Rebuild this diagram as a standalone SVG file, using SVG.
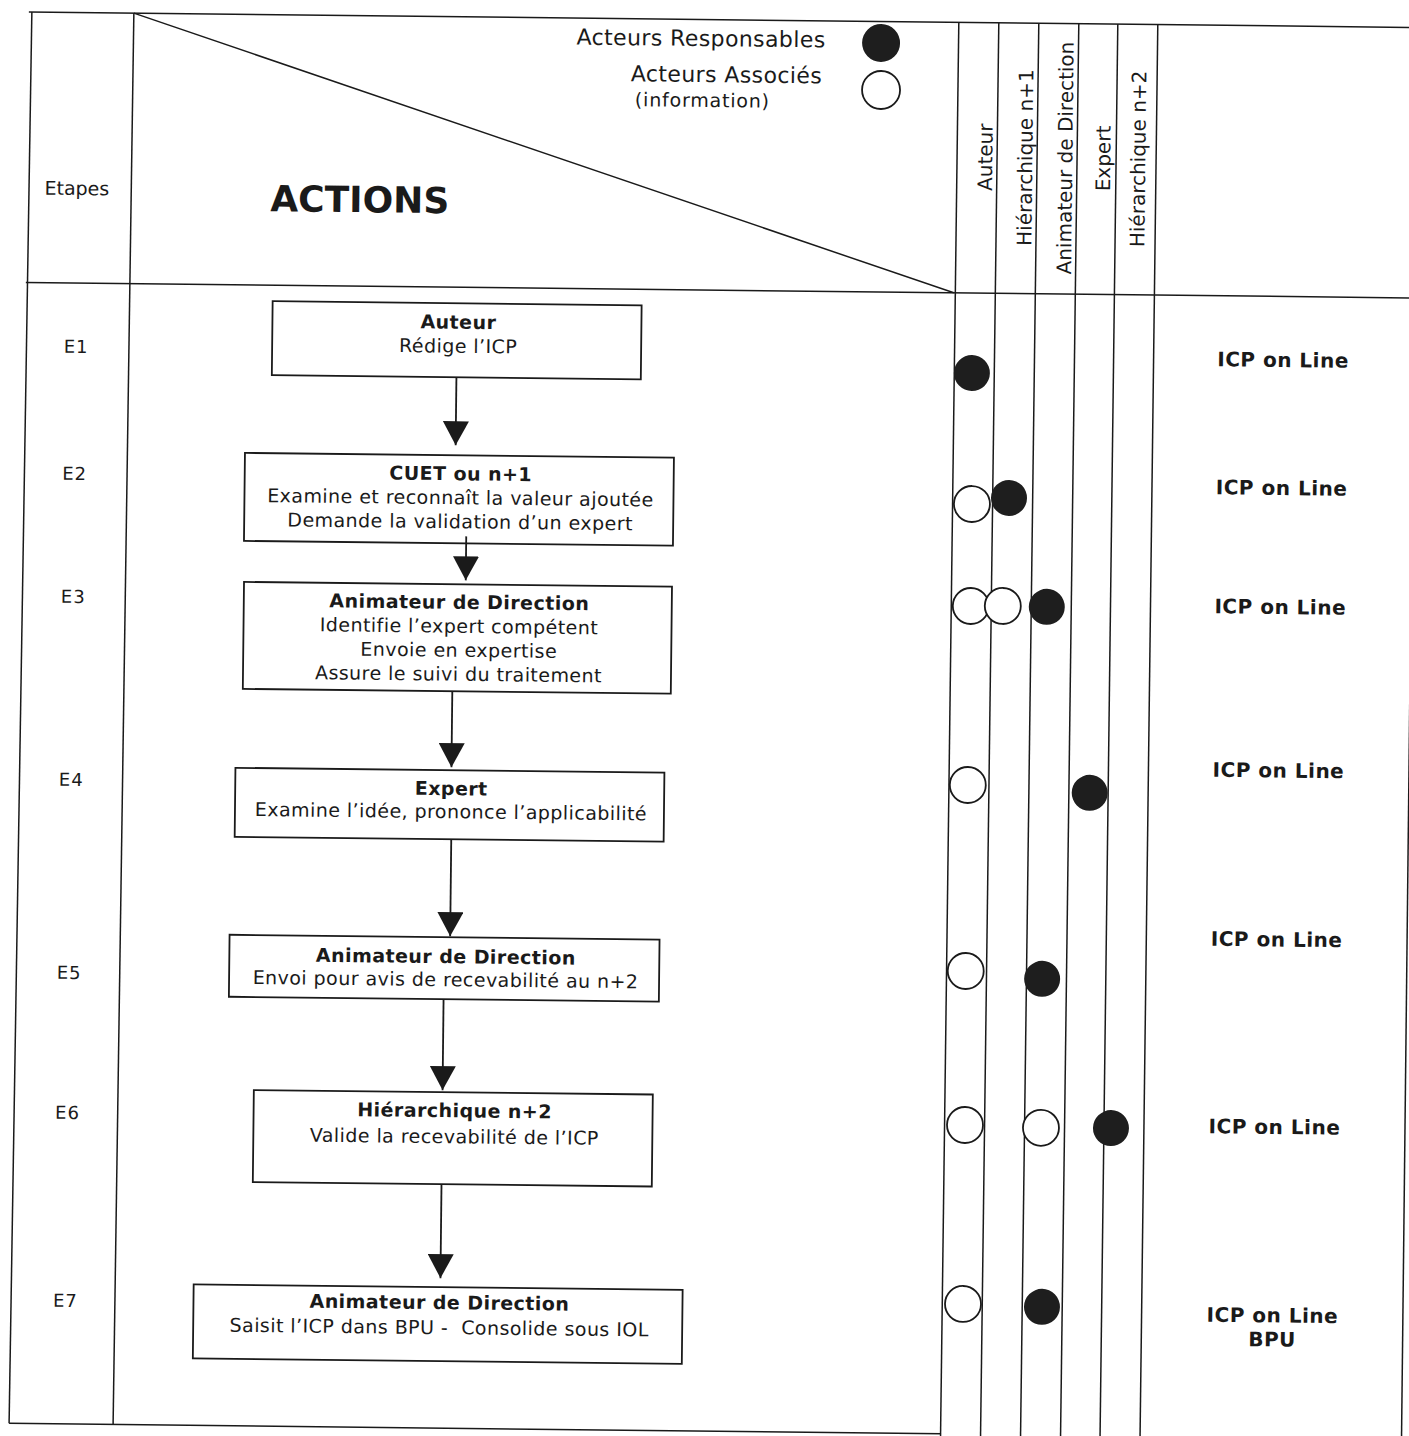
<svg xmlns="http://www.w3.org/2000/svg" width="1409" height="1436" viewBox="0 0 1409 1436">
<style>
.ln{stroke:#1a1a1a;stroke-width:1.5;fill:none}
.box{fill:#fff;stroke:#1a1a1a;stroke-width:1.8}
.t{font-family:"DejaVu Sans",Verdana,sans-serif;font-size:20px;fill:#1a1a1a;text-anchor:middle}
.bx{font-size:19px;letter-spacing:0.45px}
.b{font-weight:bold}
.resp{fill:#1e1e1e}
.assoc{fill:#fff;stroke:#1a1a1a;stroke-width:1.8}
.cn{stroke:#1a1a1a;stroke-width:1.8;fill:none;marker-end:url(#ah)}
</style>
<defs>
<marker id="ah" viewBox="0 0 24 26" refX="24" refY="13" markerWidth="24" markerHeight="26" markerUnits="userSpaceOnUse" orient="auto">
<path d="M0,0 L24,13 L0,26 z" fill="#1a1a1a"/>
</marker>
</defs>
<rect width="1409" height="1436" fill="#fff"/>
<g transform="rotate(0.64 700 720)">
<g id="grid">
<line class="ln" x1="21" y1="19.5" x2="1425" y2="19.5"/>
<line class="ln" x1="21" y1="290" x2="1425" y2="290"/>
<line class="ln" x1="17" y1="1431" x2="949" y2="1431"/>
<line class="ln" x1="24" y1="19.5" x2="17" y2="1431"/>
<line class="ln" x1="126" y1="19.5" x2="121" y2="1431"/>
<line class="ln" x1="126" y1="19.5" x2="949" y2="290"/>
<line class="ln" x1="951" y1="19.5" x2="948.5" y2="1450"/>
<line class="ln" x1="991" y1="19.5" x2="988.5" y2="1450"/>
<line class="ln" x1="1031" y1="19.5" x2="1028.5" y2="1450"/>
<line class="ln" x1="1071" y1="19.5" x2="1068.5" y2="1450"/>
<line class="ln" x1="1110" y1="19.5" x2="1108" y2="1450"/>
<line class="ln" x1="1150" y1="19.5" x2="1148" y2="1450"/>
<line class="ln" x1="1409.5" y1="290" x2="1409.5" y2="1450"/>
</g>
<g id="header">
<text class="t" x="71" y="202" style="font-size:19px">Etapes</text>
<text class="t b" x="354" y="216" style="font-size:36px">ACTIONS</text>
<text class="t" x="818" y="46" style="font-size:22px;letter-spacing:0.4px;text-anchor:end">Acteurs Responsables</text>
<text class="t" x="815" y="82" style="font-size:22px;letter-spacing:0.4px;text-anchor:end">Acteurs Associés</text>
<text class="t" x="628" y="107" style="font-size:19px;letter-spacing:0.8px;text-anchor:start">(information)</text>
<circle class="resp" cx="873.5" cy="41" r="19"/>
<circle class="assoc" cx="874" cy="88" r="19"/>
<text class="t" transform="translate(986,154) rotate(-90)">Auteur</text>
<text class="t" transform="translate(1026,154) rotate(-90)">Hiérarchique n+1</text>
<text class="t" transform="translate(1066,154) rotate(-90)">Animateur de Direction</text>
<text class="t" transform="translate(1104,154) rotate(-90)">Expert</text>
<text class="t" transform="translate(1139,154) rotate(-90)">Hiérarchique n+2</text>
</g>
<g id="steps">
<text class="t" x="72" y="360" style="font-size:18px;letter-spacing:1px">E1</text>
<text class="t" x="72" y="487" style="font-size:18px;letter-spacing:1px">E2</text>
<text class="t" x="72" y="610" style="font-size:18px;letter-spacing:1px">E3</text>
<text class="t" x="72" y="793" style="font-size:18px;letter-spacing:1px">E4</text>
<text class="t" x="72" y="986" style="font-size:18px;letter-spacing:1px">E5</text>
<text class="t" x="72" y="1126" style="font-size:18px;letter-spacing:1px">E6</text>
<text class="t" x="72" y="1314" style="font-size:18px;letter-spacing:1px">E7</text>
</g>
<g id="n1">
<rect class="box" x="268" y="306" width="369" height="74"/>
<text class="t bx b" x="454" y="331.5">Auteur</text>
<text class="t bx" x="454" y="355.5">Rédige l’ICP</text>
</g>
<g id="n2">
<rect class="box" x="242" y="458" width="429" height="88"/>
<text class="t bx b" x="458" y="483">CUET ou n+1</text>
<text class="t bx" x="458" y="507">Examine et reconnaît la valeur ajoutée</text>
<text class="t bx" x="458" y="531">Demande la validation d’un expert</text>
</g>
<g id="n3">
<rect class="box" x="242.5" y="587" width="428" height="107"/>
<text class="t bx b" x="458" y="611.5">Animateur de Direction</text>
<text class="t bx" x="458" y="635.5">Identifie l’expert compétent</text>
<text class="t bx" x="458" y="659.5">Envoie en expertise</text>
<text class="t bx" x="458" y="683.5">Assure le suivi du traitement</text>
</g>
<g id="n4">
<rect class="box" x="236" y="773" width="429" height="69"/>
<text class="t bx b" x="452" y="798">Expert</text>
<text class="t bx" x="452" y="821">Examine l’idée, prononce l’applicabilité</text>
</g>
<g id="n5">
<rect class="box" x="232" y="940" width="430" height="62"/>
<text class="t bx b" x="448.5" y="966">Animateur de Direction</text>
<text class="t bx" x="448.5" y="989">Envoi pour avis de recevabilité au n+2</text>
</g>
<g id="n6">
<rect class="box" x="258" y="1095" width="399" height="92"/>
<text class="t bx b" x="459" y="1120">Hiérarchique n+2</text>
<text class="t bx" x="459" y="1146">Valide la recevabilité de l’ICP</text>
</g>
<g id="n7">
<rect class="box" x="200" y="1290" width="489" height="74"/>
<text class="t bx b" x="446" y="1312">Animateur de Direction</text>
<text class="t bx" x="446" y="1337" style="white-space:pre">Saisit l’ICP dans BPU -  Consolide sous IOL</text>
</g>
<g id="connectors">
<line class="cn" x1="452.6" y1="380" x2="452.6" y2="448"/>
<line class="cn" x1="464.2" y1="539" x2="464.2" y2="583"/>
<line class="cn" x1="452" y1="694" x2="452" y2="770"/>
<line class="cn" x1="452.6" y1="842" x2="452.6" y2="939"/>
<line class="cn" x1="446.7" y1="1002" x2="446.7" y2="1093"/>
<line class="cn" x1="446.7" y1="1187" x2="446.7" y2="1281"/>
</g>
<g id="actors">
<circle class="resp" cx="968" cy="370" r="18"/>
<circle class="assoc" cx="969.5" cy="501" r="18"/>
<circle class="resp" cx="1006.5" cy="494.5" r="18"/>
<circle class="assoc" cx="969.5" cy="603" r="18"/>
<circle class="assoc" cx="1001.5" cy="602.6" r="18"/>
<circle class="resp" cx="1045.5" cy="603" r="18"/>
<circle class="assoc" cx="968.5" cy="782" r="18"/>
<circle class="resp" cx="1090.5" cy="788.5" r="18"/>
<circle class="assoc" cx="968.5" cy="968" r="18"/>
<circle class="resp" cx="1045" cy="975" r="18"/>
<circle class="assoc" cx="969.5" cy="1122" r="18"/>
<circle class="assoc" cx="1045.5" cy="1124" r="18"/>
<circle class="resp" cx="1115.5" cy="1123.5" r="18"/>
<circle class="assoc" cx="969.5" cy="1301" r="18"/>
<circle class="resp" cx="1048.5" cy="1303" r="18"/>
</g>
<g id="tools">
<text class="t b" x="1279" y="360.5" style="letter-spacing:0.5px">ICP on Line</text>
<text class="t b" x="1279" y="488.5" style="letter-spacing:0.5px">ICP on Line</text>
<text class="t b" x="1279" y="607.5" style="letter-spacing:0.5px">ICP on Line</text>
<text class="t b" x="1279" y="771" style="letter-spacing:0.5px">ICP on Line</text>
<text class="t b" x="1279" y="940" style="letter-spacing:0.5px">ICP on Line</text>
<text class="t b" x="1279" y="1127.5" style="letter-spacing:0.5px">ICP on Line</text>
<text class="t b" x="1279" y="1316" style="letter-spacing:0.5px">ICP on Line</text>
<text class="t b" x="1279" y="1340" style="letter-spacing:0.5px">BPU</text>
</g>
</g>
</svg>
